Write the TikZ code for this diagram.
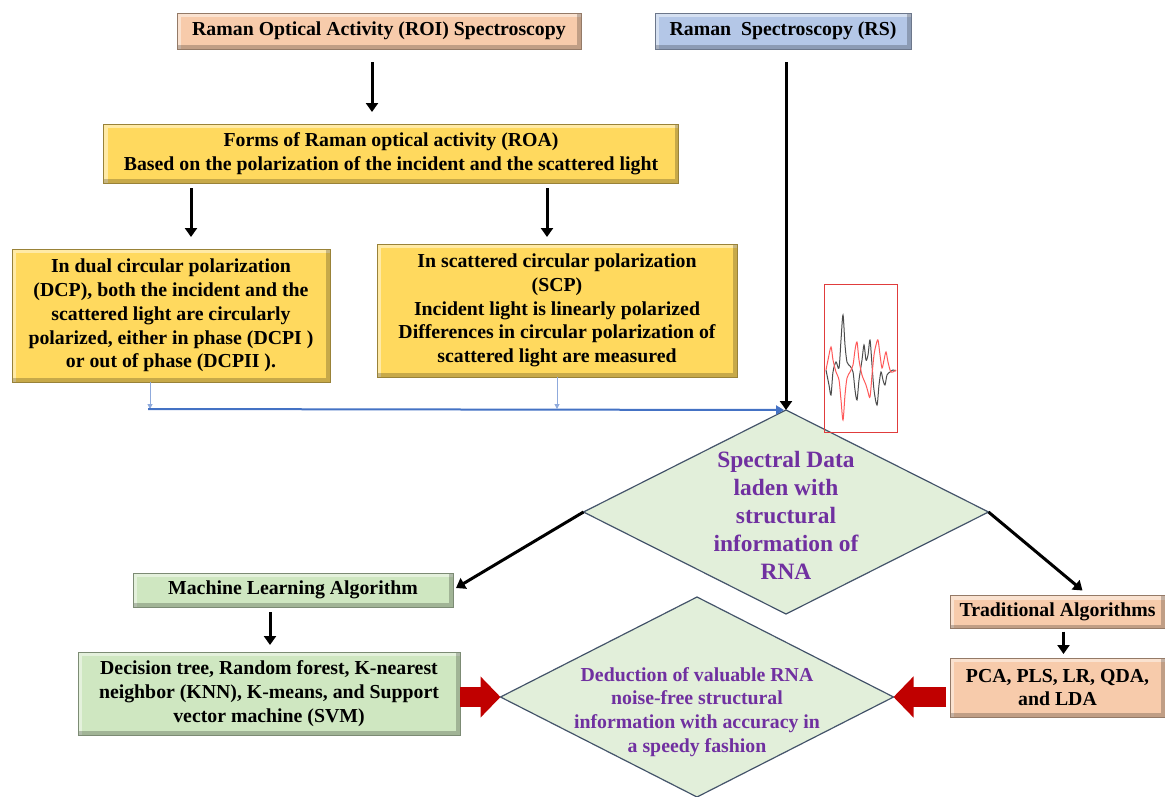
\documentclass[tikz,border=0pt]{standalone}
\usepackage{fontspec}
\setmainfont{Liberation Serif}
\usetikzlibrary{arrows.meta,shapes.geometric}
\definecolor{peach}{HTML}{F7CBAB}
\definecolor{skyblue}{HTML}{B4C7E7}
\definecolor{gold}{HTML}{FFD95E}
\definecolor{mint}{HTML}{CFE7C1}
\definecolor{pale}{HTML}{E2EFDA}
\definecolor{slate}{HTML}{44546A}
\definecolor{roapurple}{HTML}{7030A0}
\definecolor{darkred}{HTML}{C00000}
\definecolor{linkblue}{HTML}{4472C4}
\definecolor{specred}{HTML}{E03C3C}
\begin{document}
\begin{tikzpicture}[x=1pt,y=-1pt,
  every node/.style={font=\fontsize{19.8}{23.8}\selectfont\bfseries,align=center,inner sep=0pt,outer sep=0pt},
  bevel/.style={path picture={\draw[white,opacity=.45,line width=8pt] (path picture bounding box.south west) |- (path picture bounding box.north east); \draw[black,opacity=.22,line width=8pt] (path picture bounding box.south west) -| (path picture bounding box.north east);}},
  box/.style={rectangle,fill=#1,draw=#1!60!black,line width=.6pt,bevel},
  dia/.style={diamond,fill=pale,draw=slate,line width=1.2pt},
  blk/.style={line width=3pt,-{Triangle[width=12pt,length=9pt]}},
  thinblue/.style={draw=linkblue!60,line width=1pt,-{Triangle[width=5pt,length=5pt]}},
  blueline/.style={draw=linkblue,line width=2pt,-{Triangle[width=9pt,length=8pt]}},
  redarrow/.style={draw=darkred,line width=20pt,-{Triangle[width=40pt,length=20pt]}}]
\useasboundingbox (0,0) rectangle (1165,796);
\node[box=peach,minimum width=404pt,minimum height=36pt] (roi) at (379,31) {Raman Optical Activity (ROI) Spectroscopy};
\node[box=skyblue,minimum width=256pt,minimum height=36pt] (rs) at (783,31) {Raman\ \ Spectroscopy (RS)};
\node[box=gold,minimum width=575pt,minimum height=59pt] (forms) at (391,153.5) {Forms of Raman optical activity (ROA)\\Based on the polarization of the incident and the scattered light};
\node[box=gold,minimum width=318pt,minimum height=133pt] (dcp) at (171,315.5) {In dual circular polarization\\(DCP), both the incident and the\\scattered light are circularly\\polarized, either in phase (DCPI )\\or out of phase (DCPII ).};
\node[box=gold,minimum width=360pt,minimum height=133pt] (scp) at (557,310.5) {In scattered circular polarization\\(SCP)\\Incident light is linearly polarized\\Differences in circular polarization of\\scattered light are measured};
\node[dia,minimum width=405pt,minimum height=204pt] (spectral) at (786,512) {};
\node[text=roapurple,font=\fontsize{23.4}{28}\selectfont\bfseries] (spectraltext) at (786,515) {Spectral Data\\laden with\\structural\\information of\\RNA};
\node[box=mint,minimum width=320pt,minimum height=34pt] (ml) at (293,590) {Machine Learning Algorithm};
\node[box=mint,minimum width=382pt,minimum height=83pt] (mlmethods) at (269,693.5) {Decision tree, Random forest, K-nearest\\neighbor (KNN), K-means, and Support\\vector machine (SVM)};
\node[dia,minimum width=393pt,minimum height=200pt] (deduction) at (697,697) {};
\node[text=roapurple] (deductiontext) at (697,712) {Deduction of valuable RNA\\noise-free structural\\information with accuracy in\\a speedy fashion};
\node[box=peach,minimum width=215pt,minimum height=33pt] (trad) at (1057.5,612) {Traditional Algorithms};
\node[box=peach,minimum width=215pt,minimum height=59pt] (tradmethods) at (1057.5,687.5) {PCA, PLS, LR, QDA,\\and LDA};
\coordinate (bend) at (148,409);
\draw[blk] ([xshift=-7pt,yshift=-13pt]roi.south) -- ([xshift=-19pt,yshift=12pt]forms.north);
\draw[blk] ([xshift=20pt,yshift=-5pt]dcp.north |- forms.south) -- ([xshift=20pt,yshift=12pt]dcp.north);
\draw[blk] ([xshift=-10pt,yshift=-5pt]scp.north |- forms.south) -- ([xshift=-10pt,yshift=7pt]scp.north);
\draw[blk] ([yshift=-13pt]spectral.north |- rs.south) -- (spectral.north);
\draw[thinblue] ([xshift=-21pt]dcp.south) -- ([xshift=-21pt]dcp.south |- bend);
\draw[thinblue] (scp.south) -- (scp.south |- bend);
\draw[blueline] (bend) -- ([xshift=-2pt]spectral.north);
\draw[blk] (spectral.west) -- ([xshift=3pt,yshift=2pt]ml.east);
\draw[blk] (spectral.east) -- ([xshift=25pt,yshift=5pt]trad.north);
\draw[blk] ([xshift=-23pt,yshift=-5pt]ml.south) -- ([xshift=-23pt,yshift=7pt]ml.south |- mlmethods.north);
\draw[blk] ([xshift=6pt,yshift=-3pt]trad.south) -- ([xshift=6pt,yshift=4pt]trad.south |- tradmethods.north);
\draw[redarrow] (mlmethods.east |- deduction.west) -- (deduction.west);
\draw[redarrow] ([xshift=-4pt]tradmethods.west |- deduction.east) -- (deduction.east);
\draw[specred,line width=1pt] (824,284) rectangle (897,432);
\draw[smooth,black!70,line width=1pt] plot coordinates {(826,370) (829,385) (831,395) (833,372) (836,362) (839,368) (841,340) (843,315) (845,345) (847,362) (850,366) (853,372) (855,390) (857,400) (859,380) (862,360) (864,345) (866,360) (868,355) (870,340) (872,365) (874,390) (877,405) (879,385) (881,372) (883,380) (885,385) (887,375) (890,372) (893,370) (896,371)};
\draw[smooth,red!65,line width=1pt] plot coordinates {(826,370) (828,360) (831,347) (833,360) (836,372) (839,380) (841,400) (843,420) (845,395) (847,378) (850,372) (853,365) (855,350) (857,342) (859,360) (862,375) (866,385) (868,392) (870,397) (872,375) (874,355) (876,345) (878,340) (880,355) (882,368) (884,360) (886,352) (888,362) (891,372) (896,370)};
\end{tikzpicture}
\end{document}
